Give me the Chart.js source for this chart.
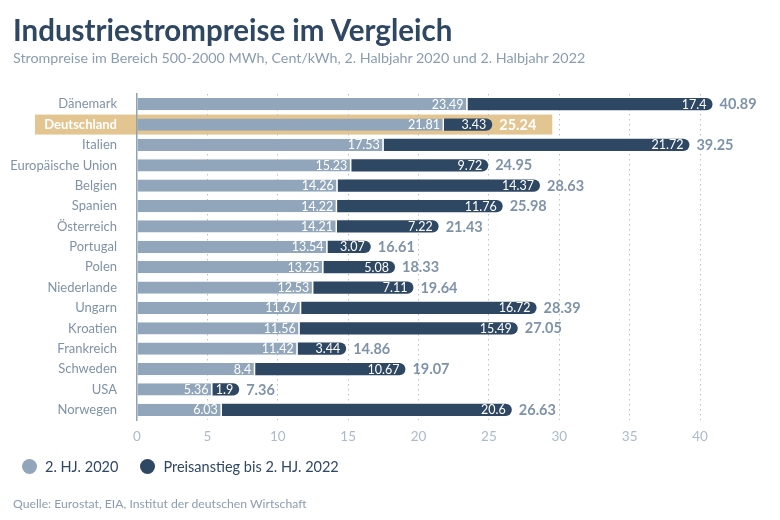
<!DOCTYPE html>
<html>
<head>
<meta charset="utf-8">
<script src="https://cdn.jsdelivr.net/npm/chart.js@4"></script>
<style>
  body { margin: 0; background: #fff; font-family: Lato, sans-serif; }
  #wrap { position: relative; width: 780px; height: 520px; overflow: hidden; }
  #chart { position: absolute; left: 0; top: 0; }
  .title { position: absolute; left: 13px; top: 12px; font-size: 29.5px; font-weight: bold; color: #2e4763; }
  .subtitle { position: absolute; left: 13px; top: 49px; font-size: 14.3px; color: #8a9db0; }
  .legend { position: absolute; top: 458px; left: 22px; font-size: 14.5px; color: #2e4763; display: flex; align-items: center; }
  .legend span.dot { display: inline-block; width: 15px; height: 15px; border-radius: 50%; margin-right: 8px; }
  .legend .item { display: flex; align-items: center; margin-right: 22px; }
  .source { position: absolute; left: 13px; top: 496px; font-size: 12.2px; color: #8a9db0; }
</style>
</head>
<body>
<div id="wrap">
  <canvas id="chart" width="780" height="520"></canvas>
  <div class="title">Industriestrompreise im Vergleich</div>
  <div class="subtitle">Strompreise im Bereich 500-2000 MWh, Cent/kWh, 2. Halbjahr 2020 und 2. Halbjahr 2022</div>
  <div class="legend">
    <div class="item"><span class="dot" style="background:#91a6ba"></span>2. HJ. 2020</div>
    <div class="item"><span class="dot" style="background:#2e4763"></span>Preisanstieg bis 2. HJ. 2022</div>
  </div>
  <div class="source">Quelle: Eurostat, EIA, Institut der deutschen Wirtschaft</div>
</div>
<script>
const countries = ['Dänemark', 'Deutschland', 'Italien', 'Europäische Union', 'Belgien', 'Spanien', 'Österreich',
    'Portugal', 'Polen', 'Niederlande', 'Ungarn', 'Kroatien', 'Frankreich', 'Schweden', 'USA', 'Norwegen'];
const prices2020 = [23.49, 21.81, 17.53, 15.23, 14.26, 14.22, 14.21, 13.54, 13.25, 12.53, 11.67, 11.56, 11.42, 8.4, 5.36, 6.03];
const increase2022 = [17.4, 3.43, 21.72, 9.72, 14.37, 11.76, 7.22, 3.07, 5.08, 7.11, 16.72, 15.49, 3.44, 10.67, 1.9, 20.6];
const totals2022 = [40.89, 25.24, 39.25, 24.95, 28.63, 25.98, 21.43, 16.61, 18.33, 19.64, 28.39, 27.05, 14.86, 19.07, 7.36, 26.63];
const xTicks = [0, 5, 10, 15, 20, 25, 30, 35, 40];
const highlight = 'Deutschland';

const LIGHT = '#91a6ba';
const DARK = '#2e4763';
const TAN = '#e3c592';
const LABEL = '#7f93a8';

// tan band behind the highlighted row
const highlightBand = {
    id: 'highlightBand',
    beforeDraw(chart) {
        const i = countries.indexOf(highlight);
        const ctx = chart.ctx;
        const x = chart.scales.x, y = chart.scales.y;
        const cy = y.getPixelForValue(i);
        const end = x.getPixelForValue(totals2022[i]) + 60;
        ctx.save();
        ctx.fillStyle = TAN;
        ctx.fillRect(35, cy - 10, end - 35, 20);
        ctx.restore();
    }
};

// value labels inside the segments and totals after the bars
const barLabels = {
    id: 'barLabels',
    afterDatasetsDraw(chart) {
        const ctx = chart.ctx;
        ctx.save();
        ctx.textBaseline = 'middle';
        chart.data.datasets.forEach((ds, di) => {
            chart.getDatasetMeta(di).data.forEach((bar, i) => {
                ctx.font = '12.5px Lato, sans-serif';
                ctx.fillStyle = '#ffffff';
                ctx.textAlign = 'right';
                ctx.fillText(String(ds.data[i]), bar.x - (di === 1 ? 6 : 4), bar.y + 0.5);
                if (di === 1) {
                    ctx.font = 'bold 14.5px Lato, sans-serif';
                    ctx.fillStyle = countries[i] === highlight ? '#ffffff' : LABEL;
                    ctx.textAlign = 'left';
                    ctx.fillText(totals2022[i].toFixed(2), bar.x + 7, bar.y + 0.5);
                }
            });
        });
        ctx.restore();
    }
};

new Chart(document.getElementById('chart'), {
    type: 'bar',
    data: {
        labels: countries,
        datasets: [{
            label: '2. HJ. 2020',
            data: prices2020,
            backgroundColor: LIGHT,
            borderColor: '#ffffff',
            borderWidth: { top: 0, bottom: 0, left: 0, right: 1.5 },
            borderSkipped: false,
            barPercentage: 0.6,
            categoryPercentage: 1
        }, {
            label: 'Preisanstieg bis 2. HJ. 2022',
            data: increase2022,
            backgroundColor: DARK,
            borderRadius: { topRight: 6, bottomRight: 6 },
            borderSkipped: 'start',
            barPercentage: 0.6,
            categoryPercentage: 1,
            clip: false
        }]
    },
    options: {
        indexAxis: 'y',
        responsive: false,
        animation: false,
        layout: { padding: { left: 0, right: 80, top: 94, bottom: 70 } },
        plugins: {
            legend: { display: false },
            tooltip: { enabled: false }
        },
        scales: {
            x: {
                stacked: true,
                min: 0,
                max: 40,
                afterBuildTicks: scale => { scale.ticks = xTicks.map(v => ({ value: v })); },
                afterFit: scale => { scale.height = 30; },
                border: { display: false, dash: [1.5, 3.5] },
                grid: {
                    color: ctx => ctx.tick && ctx.tick.value === 0 ? 'transparent' : '#b3c3d3',
                    lineWidth: 1,
                    drawTicks: false
                },
                ticks: {
                    color: '#a9bbcc',
                    font: { family: 'Lato, sans-serif', size: 13.5 },
                    padding: 9
                }
            },
            y: {
                stacked: true,
                afterFit: scale => { scale.width = 137; },
                border: { display: true, color: '#8fa3b6', width: 1.5 },
                grid: { color: 'transparent', drawTicks: false },
                ticks: {
                    padding: 20,
                    color: ctx => countries[ctx.index] === highlight ? '#ffffff' : LABEL,
                    font: ctx => countries[ctx.index] === highlight
                        ? { family: 'Lato, sans-serif', size: 13, weight: 'bold' }
                        : { family: 'Lato, sans-serif', size: 13 }
                }
            }
        }
    },
    plugins: [highlightBand, barLabels]
});
</script>
</body>
</html>
